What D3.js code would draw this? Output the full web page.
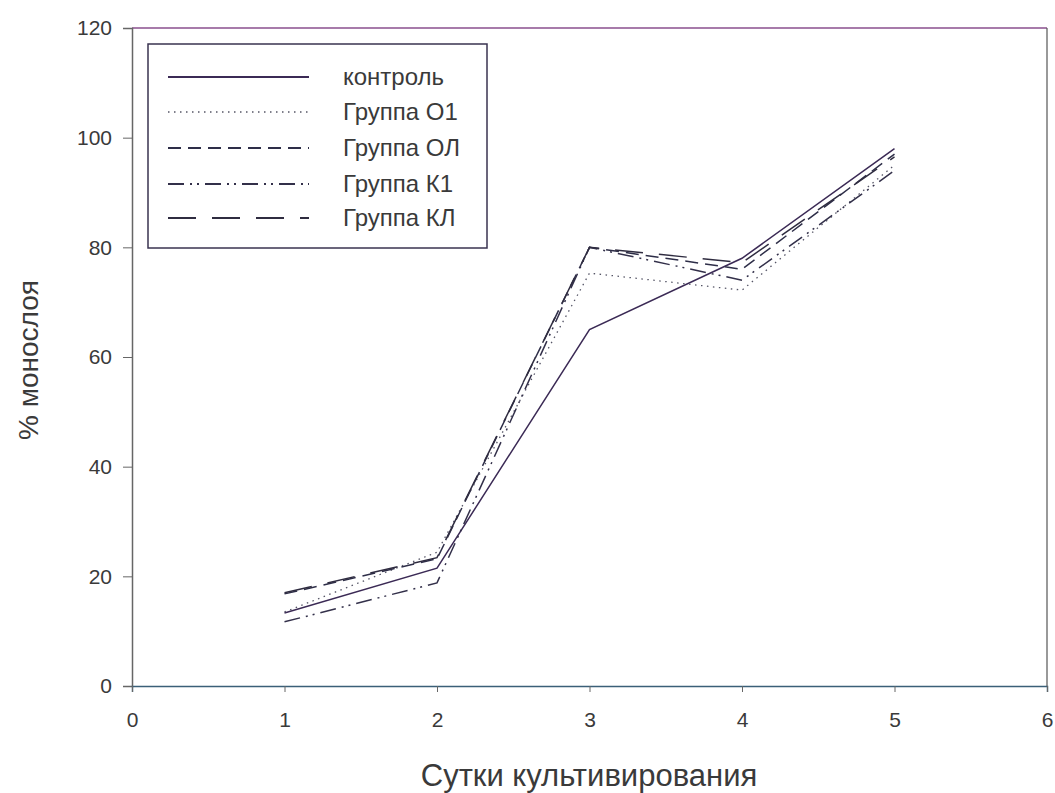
<!DOCTYPE html>
<html>
<head>
<meta charset="utf-8">
<script src="https://cdn.jsdelivr.net/npm/d3@7"></script>
<style>
  body { margin: 0; background: #fff; }
  svg { display: block; }
  text { font-family: "Liberation Sans", Arial, sans-serif; fill: #3a3a3a; }
</style>
</head>
<body>
<svg id="chart" width="1055" height="793"></svg>
<script>
// ---- data ----
const days = [1, 2, 3, 4, 5];
const seriesNames = ["контроль", "Группа О1", "Группа ОЛ", "Группа К1", "Группа КЛ"];
const control = [13.3, 21.5, 65, 78, 98];
const groupO1 = [13.5, 24.4, 75.3, 72.2, 95];
const groupOL = [16.8, 23.2, 80, 76, 97];
const groupK1 = [11.7, 18.8, 80, 74, 94];
const groupKL = [17.0, 23.4, 80, 77.2, 96.5];
const xTicks = [0, 1, 2, 3, 4, 5, 6];
const yTicks = [0, 20, 40, 60, 80, 100, 120];
const xTitle = "Сутки культивирования";
const yTitle = "% монослоя";

const seriesValues = [control, groupO1, groupOL, groupK1, groupKL];
const dashes = [null, "1.5,4.5", "13,7", "16,6,2,5,2,6", "28,16"];
const lineColors = ["#3b2a55", "#555566", "#2e2e48", "#33304a", "#2f2c40"];

// ---- layout ----
const svg = d3.select("#chart");
const L = 132, R = 1047, T = 28, B = 686;
const x = d3.scaleLinear().domain([0, 6]).range([L, R]);
const y = d3.scaleLinear().domain([0, 120]).range([B, T]);
const fmt = d3.format("d");

// frame
svg.append("line").attr("x1", L).attr("x2", R).attr("y1", T).attr("y2", T)
  .attr("stroke", "#8a4f8e").attr("stroke-width", 1.5);
svg.append("line").attr("x1", R).attr("x2", R).attr("y1", T).attr("y2", B)
  .attr("stroke", "#555").attr("stroke-width", 1.2);

// axes
const yAxis = d3.axisLeft(y).tickValues(yTicks).tickFormat(fmt).tickSize(9).tickPadding(11);
const gy = svg.append("g").attr("transform", `translate(${L},0)`).call(yAxis);
gy.select(".domain").attr("stroke", "#666").attr("stroke-width", 1.5);
gy.selectAll(".tick line").attr("stroke", "#666");
gy.selectAll(".tick text").attr("font-size", 21).attr("fill", "#444")
  .attr("font-family", "Liberation Sans, Arial, sans-serif");

const xAxis = d3.axisBottom(x).tickValues(xTicks).tickFormat(fmt).tickSize(6).tickPadding(20);
const gx = svg.append("g").attr("transform", `translate(0,${B})`).call(xAxis);
gx.select(".domain").attr("stroke", "#3b5f78").attr("stroke-width", 1.5);
gx.selectAll(".tick line").attr("stroke", "#666");
gx.selectAll(".tick text").attr("font-size", 21).attr("fill", "#444")
  .attr("font-family", "Liberation Sans, Arial, sans-serif");

// titles
svg.append("text").attr("x", 589).attr("y", 786)
  .attr("text-anchor", "middle").attr("font-size", 31).text(xTitle);
svg.append("text").attr("transform", "translate(38,360) rotate(-90)")
  .attr("text-anchor", "middle").attr("font-size", 28).text(yTitle);

// lines
const line = d3.line().x((d, i) => x(days[i])).y(d => y(d));
seriesValues.forEach((vals, k) => {
  svg.append("path").datum(vals)
    .attr("d", line)
    .attr("fill", "none")
    .attr("stroke", lineColors[k])
    .attr("stroke-width", k === 1 ? 1.3 : 1.5)
    .attr("stroke-dasharray", dashes[k]);
});

// legend
const lg = svg.append("g");
lg.append("rect").attr("x", 148).attr("y", 44).attr("width", 339).attr("height", 204)
  .attr("fill", "#fff").attr("stroke", "#3a3350").attr("stroke-width", 1.5);
const rowY = [77, 112, 148, 184, 218];
seriesNames.forEach((name, k) => {
  lg.append("line").attr("x1", 168).attr("x2", 309).attr("y1", rowY[k]).attr("y2", rowY[k])
    .attr("stroke", lineColors[k]).attr("stroke-width", k === 1 ? 1.3 : 1.8)
    .attr("stroke-dasharray", dashes[k]);
  lg.append("text").attr("x", 343).attr("y", rowY[k] + 8).attr("font-size", 24).text(name);
});
</script>
</body>
</html>
